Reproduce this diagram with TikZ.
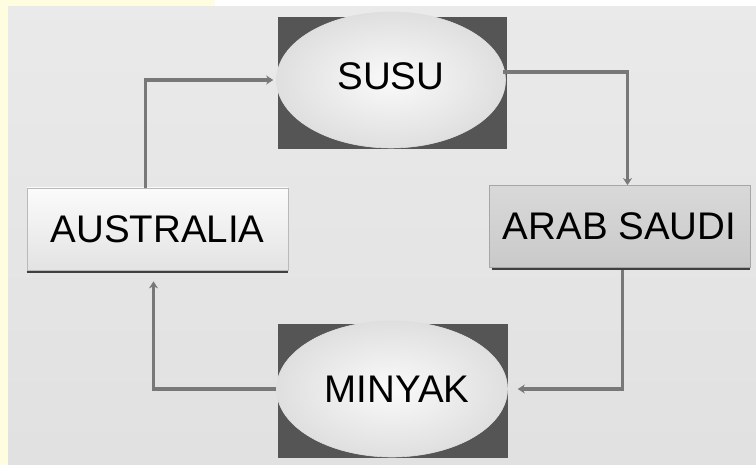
\documentclass[tikz,border=0pt]{standalone}
\usepackage{fontspec}
\setmainfont{Liberation Sans}
\usetikzlibrary{shapes.geometric,arrows.meta}

\definecolor{paleyellow}{HTML}{FFFDE0}
\definecolor{panelgray}{HTML}{E6E6E6}
\definecolor{darkback}{HTML}{555555}
\definecolor{linegray}{HTML}{787878}

\begin{document}
\begin{tikzpicture}[x=1pt,y=-1pt,
    box/.style={rectangle, draw=gray!55, line width=0.8pt, minimum width=261pt, minimum height=82pt, inner sep=0pt, font=\fontsize{38.5}{40}\selectfont},
    oval/.style={ellipse, draw=gray!25, line width=0.6pt, inner color=white!96!gray, outer color=gray!25, minimum width=229pt, minimum height=136pt, inner sep=0pt, font=\fontsize{38.5}{40}\selectfont},
    backdrop/.style={rectangle, fill=darkback, inner sep=0pt},
    flow/.style={draw=linegray, line width=3.6pt, -{Stealth[length=7pt,width=9pt]}}]
  \useasboundingbox (0,0) rectangle (756,465);
  % page and panel
  \fill[white] (0,0) rectangle (756,465);
  \fill[paleyellow] (0,0) rectangle (215,8);
  \fill[paleyellow] (0,0) rectangle (8,465);
  \shade[top color=panelgray!85!white, bottom color=panelgray!95!gray] (8,7) rectangle (756,465);

  % the two products
  \node[backdrop, minimum width=229pt, minimum height=132pt] (susubg) at (392.5,83) {};
  \node[oval] (susu) at (391,80) {\raisebox{8pt}{SUSU}};
  \node[backdrop, minimum width=230pt, minimum height=134pt] (minyakbg) at (393,391) {};
  \node[oval, minimum width=231pt] (minyak) at (392,389) {\hspace{10pt}MINYAK};

  % the two countries
  \node[box, top color=white!97!gray, bottom color=gray!22] (aus) at (157.5,229) {AUSTRALIA};
  \draw[black!75, line width=2pt] ([yshift=-1.5pt]aus.south west) -- ([yshift=-1.5pt]aus.south east);
  \node[box, top color=gray!30, bottom color=gray!42, draw=gray!70] (saudi) at (619.5,226.5) {ARAB SAUDI};
  \draw[black!75, line width=2pt] ([xshift=3pt,yshift=-1.5pt]saudi.south west) -- ([yshift=-1.5pt]saudi.south east);

  % trade flows
  \draw[flow] ([xshift=-12pt]aus.north) |- ([xshift=-3pt]susu.west);
  \draw[flow] ([xshift=-3pt,yshift=8pt]susu.east) -| ([xshift=8pt]saudi.north);
  \draw[flow, shorten >=10pt] ([xshift=3pt,yshift=-2pt]saudi.south) |- (minyak.east);
  \draw[flow, shorten >=11pt] (minyak.west) -| ([xshift=-4pt]aus.south);
\end{tikzpicture}
\end{document}
